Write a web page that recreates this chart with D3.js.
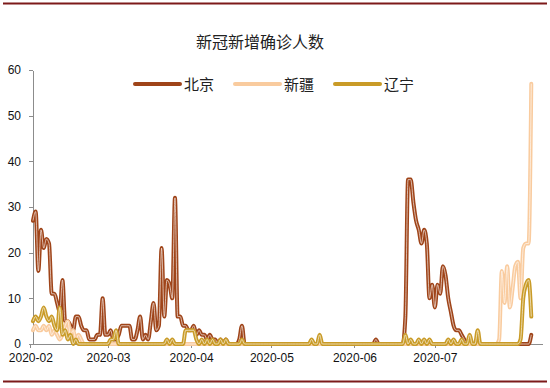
<!DOCTYPE html>
<meta charset="utf-8">
<style>

  body {
    margin: 0;
    background: #fff;
  }

  svg {
    display: block;
    font-family: "Liberation Sans", Arial, sans-serif;
  }

  .title,
  .legend text {
    font-family: "Noto Sans CJK SC", sans-serif;
    fill: #222;
  }

  .axis path,
  .axis line {
    fill: none;
    stroke: #8c8c8c;
    shape-rendering: crispEdges;
  }

  .axis text {
    font-size: 12px;
    fill: #111;
  }

  .line {
    fill: none;
    stroke-width: 4;
    stroke-linejoin: round;
    stroke-linecap: round;
  }

  .core {
    fill: none;
    stroke: #fff;
    stroke-width: 0.9;
    stroke-opacity: 0.7;
  }

</style>
<body>
<script src="https://cdn.jsdelivr.net/npm/d3@7"></script>
<script>

  // Daily new confirmed cases, one value per day from startDate.
  var startDate = "2020-02-02";
  var seriesNames = ["北京", "新疆", "辽宁"];
  var seriesColors = ["#9f4419", "#f9cb9e", "#c99b27"];

  var beijing = [
    // Feb 2 - Feb 29
    27, 29, 16, 25, 21, 23, 22, 11, 11, 9, 7, 14, 5, 5, 4, 3, 6, 6, 4, 3, 3, 1, 1, 1, 2, 2, 10, 2,
    // Mar
    2, 3, 1, 1, 2, 4, 4, 4, 4, 1, 1, 3, 6, 1, 2, 1, 5, 9, 3, 4, 21, 6, 14, 13, 10, 32, 6, 6, 4, 4, 3,
    // Apr
    3, 4, 2, 3, 2, 2, 1, 2, 1, 1, 0, 1, 0, 1, 0, 0, 0, 0, 1, 4, 0, 0, 0, 0, 0, 0, 0, 0, 0, 0,
    // May
    0, 0, 0, 0, 0, 0, 0, 0, 0, 0, 0, 0, 0, 0, 0, 0, 0, 0, 0, 0, 0, 0, 0, 0, 0, 0, 0, 0, 0, 0, 0,
    // Jun
    0, 0, 0, 0, 0, 0, 0, 0, 1, 0, 0, 0, 0, 0, 0, 0, 0, 0, 0, 6, 36, 36, 31, 27, 25, 22, 25, 22, 10, 13,
    // Jul
    8, 13, 11, 17, 15, 10, 7, 4, 3, 3, 2, 1, 0, 0, 0, 0, 0, 0, 0, 0, 0, 0, 0, 0, 0, 0, 0, 0, 0, 0, 0,
    // Aug
    0, 0, 0, 0, 0, 2
  ];

  var xinjiang = [
    3, 4, 3, 3, 4, 3, 4, 2, 3, 2, 1, 2, 4, 5, 2, 3, 1, 2, 1, 0, 0, 0, 0, 0, 0, 0, 0, 0,
    0, 0, 0, 0, 0, 0, 0, 0, 0, 0, 0, 0, 0, 0, 0, 0, 0, 0, 0, 0, 0, 0, 0, 0, 0, 0, 0, 0, 0, 0, 0,
    0, 0, 0, 0, 0, 0, 0, 0, 0, 0, 0, 0, 0, 0, 0, 0, 0, 0, 0, 0, 0, 0, 0, 0, 0, 0, 0, 0, 0, 0,
    0, 0, 0, 0, 0, 0, 0, 0, 0, 0, 0, 0, 0, 0, 0, 0, 0, 0, 0, 0, 0, 0, 0, 0, 0, 0, 0, 0, 0, 0, 0,
    0, 0, 0, 0, 0, 0, 0, 0, 0, 0, 0, 0, 0, 0, 0, 0, 0, 0, 0, 0, 0, 0, 0, 0, 0, 0, 0, 0, 0, 0,
    0, 0, 0, 0, 0, 0, 0, 0, 0, 0, 0, 0, 0, 0, 0, 0, 0, 0, 0, 0, 0, 0, 0, 0, 1, 16, 9, 17, 8, 12, 17,
    18, 10, 21, 22, 22, 57
  ];

  var liaoning = [
    5, 6, 5, 6, 8, 6, 5, 6, 4, 3, 8, 2, 3, 1, 2, 0, 1, 0, 0, 0, 0, 0, 0, 0, 0, 0, 0, 0,
    0, 1, 1, 3, 0, 0, 0, 0, 0, 0, 0, 0, 0, 0, 0, 0, 0, 0, 0, 0, 0, 0, 1, 0, 1, 0, 0, 0, 0, 3, 3,
    3, 3, 1, 0, 1, 0, 1, 0, 1, 0, 0, 1, 0, 1, 0, 0, 0, 0, 0, 1, 0, 0, 0, 0, 0, 0, 0, 0, 0, 0,
    0, 0, 0, 0, 0, 0, 0, 0, 0, 0, 0, 0, 0, 0, 0, 1, 0, 0, 2, 0, 0, 0, 0, 0, 0, 0, 0, 0, 0, 0, 0,
    0, 0, 0, 0, 0, 0, 0, 0, 0, 0, 0, 0, 0, 0, 0, 0, 0, 0, 0, 2, 0, 1, 0, 0, 1, 0, 1, 0, 1, 0,
    0, 0, 0, 0, 0, 1, 0, 1, 0, 0, 1, 0, 0, 2, 0, 0, 3, 0, 0, 0, 0, 0, 0, 0, 0, 0, 0, 0, 0, 0, 0,
    0, 1, 10, 13, 14, 6
  ];

  var yTicks = [0, 10, 20, 30, 40, 50, 60];
  var monthTicks = ["2020-02-01", "2020-03-01", "2020-04-01", "2020-05-01", "2020-06-01", "2020-07-01"];
  var xDomain = ["2020-02-01", "2020-08-10"];

  var parse = d3.timeParse("%Y-%m-%d");
  var start = parse(startDate);

  var svg = d3.select("body").append("svg")
    .attr("width", 550)
    .attr("height", 388);

  var x = d3.scaleTime()
    .domain(xDomain.map(parse))
    .range([30.3, 542]);

  var y = d3.scaleLinear()
    .domain([0, 60])
    .range([344, 70]);

  // Page rules top and bottom.
  svg.append("line")
    .attr("x1", 3).attr("x2", 547).attr("y1", 3.5).attr("y2", 3.5)
    .attr("stroke", "#7d1a1a").attr("stroke-width", 2);
  svg.append("line")
    .attr("x1", 3).attr("x2", 547).attr("y1", 381.5).attr("y2", 381.5)
    .attr("stroke", "#7d1a1a").attr("stroke-width", 2);

  svg.append("text")
    .attr("class", "title")
    .attr("x", 260)
    .attr("y", 48)
    .attr("text-anchor", "middle")
    .style("font-size", "16px")
    .text("新冠新增确诊人数");

  // Left axis.
  svg.append("g")
    .attr("class", "axis axis--y")
    .attr("transform", "translate(33,0)")
    .call(d3.axisLeft(y).tickValues(yTicks).tickSize(4).tickSizeOuter(0).tickPadding(8));

  // Bottom axis.
  svg.append("g")
    .attr("class", "axis axis--x")
    .attr("transform", "translate(0,344)")
    .call(d3.axisBottom(x)
      .tickValues(monthTicks.map(parse))
      .tickFormat(d3.timeFormat("%Y-%m"))
      .tickSize(4).tickSizeOuter(0).tickPadding(5));

  svg.selectAll(".axis .domain").attr("stroke", "#8c8c8c");

  var line = d3.line()
    .x(function(d, i) { return x(d3.timeDay.offset(start, i)); })
    .y(function(d) { return y(d); })
    .curve(d3.curveMonotoneX);

  var series = [beijing, xinjiang, liaoning];

  series.forEach(function(values, k) {
    svg.append("path")
      .datum(values)
      .attr("class", "line")
      .attr("stroke", seriesColors[k])
      .attr("d", line);
    svg.append("path")
      .datum(values)
      .attr("class", "core")
      .attr("d", line);
  });

  // Legend.
  var legend = svg.append("g")
    .attr("class", "legend")
    .selectAll("g")
    .data(seriesNames)
    .enter().append("g")
    .attr("transform", function(d, i) { return "translate(" + (135 + i * 100) + ",84)"; });

  legend.append("line")
    .attr("x1", 0).attr("x2", 45)
    .attr("stroke", function(d, i) { return seriesColors[i]; })
    .attr("stroke-width", 4)
    .attr("stroke-linecap", "round");

  legend.append("text")
    .attr("x", 49)
    .attr("y", 5.5)
    .style("font-size", "15px")
    .text(function(d) { return d; });

</script>
